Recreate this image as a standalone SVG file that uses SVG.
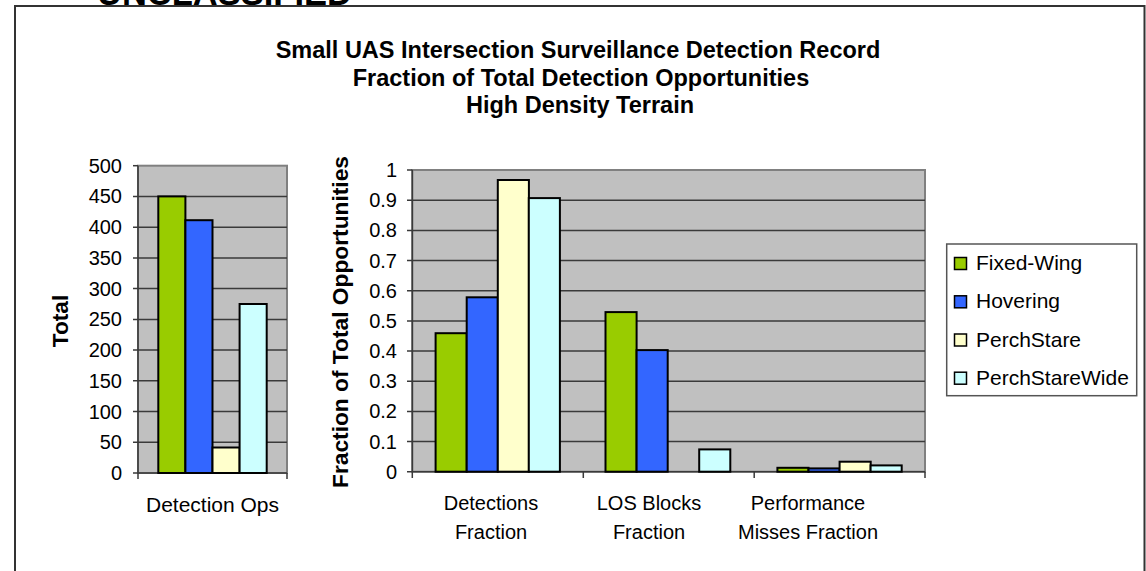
<svg xmlns="http://www.w3.org/2000/svg" width="1146" height="571" viewBox="0 0 1146 571">
<style>
  text { font-family: "Liberation Sans", Arial, sans-serif; fill: #000; }
  .title { font-size: 23.5px; font-weight: bold; text-anchor: middle; }
  .axt { font-size: 22.7px; font-weight: bold; text-anchor: middle; }
  .tick { font-size: 20px; text-anchor: end; }
  .cat { font-size: 20px; text-anchor: middle; }
  .leg { font-size: 21px; }
  .plot { fill: #C0C0C0; stroke: #808080; stroke-width: 2; }
  .grid { stroke: #3a3a3a; stroke-width: 1.5; }
  .axis { stroke: #3a3a3a; stroke-width: 1.5; fill: none; }
  .bar { stroke: #000; stroke-width: 2; }
  .fw { fill: #99CC00; }
  .hv { fill: #3366FF; }
  .ps { fill: #FFFFCC; }
  .pw { fill: #CCFFFF; }
</style>

<!-- classification banner (clipped at top, as in the reference) -->
<text x="97" y="5" style="font-size:34.5px;font-weight:bold;">UNCLASSIFIED</text>

<!-- outer frame -->
<path d="M15,571 V6 H1144.5 V571" fill="none" stroke="#333" stroke-width="2"/>

<!-- title -->
<g id="title">
  <text class="title" x="578" y="58">Small UAS Intersection Surveillance Detection Record</text>
  <text class="title" x="581" y="86">Fraction of Total Detection Opportunities</text>
  <text class="title" x="580" y="113">High Density Terrain</text>
</g>

<!-- left chart -->
<g id="chart-total">
  <rect class="plot" x="138" y="165.7" width="149" height="307.3"/>
  <g class="grid">
    <line x1="133" y1="442.3" x2="287" y2="442.3"/>
    <line x1="133" y1="411.5" x2="287" y2="411.5"/>
    <line x1="133" y1="380.8" x2="287" y2="380.8"/>
    <line x1="133" y1="350.1" x2="287" y2="350.1"/>
    <line x1="133" y1="319.4" x2="287" y2="319.4"/>
    <line x1="133" y1="288.6" x2="287" y2="288.6"/>
    <line x1="133" y1="257.9" x2="287" y2="257.9"/>
    <line x1="133" y1="227.2" x2="287" y2="227.2"/>
    <line x1="133" y1="196.4" x2="287" y2="196.4"/>
    <line x1="133" y1="165.7" x2="138" y2="165.7"/>
  </g>
  <path class="axis" d="M138,165.7 V473 M133,473 H287 M138,473 V479 M287,473 V479"/>
  <g id="bars-total">
    <rect class="bar fw" x="158.3" y="196.4" width="27.1" height="276.6"/>
    <rect class="bar hv" x="185.4" y="220.2" width="27.1" height="252.8"/>
    <rect class="bar ps" x="212.5" y="447.5" width="27.1" height="25.5"/>
    <rect class="bar pw" x="239.6" y="304" width="27.1" height="169"/>
  </g>
  <g id="ticks-total">
    <text class="tick" x="122" y="480">0</text>
    <text class="tick" x="122" y="449.3">50</text>
    <text class="tick" x="122" y="418.5">100</text>
    <text class="tick" x="122" y="387.8">150</text>
    <text class="tick" x="122" y="357.1">200</text>
    <text class="tick" x="122" y="326.4">250</text>
    <text class="tick" x="122" y="295.6">300</text>
    <text class="tick" x="122" y="264.9">350</text>
    <text class="tick" x="122" y="234.2">400</text>
    <text class="tick" x="122" y="203.4">450</text>
    <text class="tick" x="122" y="172.7">500</text>
  </g>
  <text class="cat" x="212.5" y="512" textLength="133" lengthAdjust="spacingAndGlyphs">Detection Ops</text>
  <text class="axt" transform="translate(68,321) rotate(-90)">Total</text>
</g>

<!-- right chart -->
<g id="chart-fraction">
  <rect class="plot" x="412.3" y="170" width="512.7" height="301.7"/>
  <g class="grid">
    <line x1="407" y1="441.5" x2="925" y2="441.5"/>
    <line x1="407" y1="411.4" x2="925" y2="411.4"/>
    <line x1="407" y1="381.2" x2="925" y2="381.2"/>
    <line x1="407" y1="351.0" x2="925" y2="351.0"/>
    <line x1="407" y1="320.9" x2="925" y2="320.9"/>
    <line x1="407" y1="290.7" x2="925" y2="290.7"/>
    <line x1="407" y1="260.5" x2="925" y2="260.5"/>
    <line x1="407" y1="230.4" x2="925" y2="230.4"/>
    <line x1="407" y1="200.2" x2="925" y2="200.2"/>
    <line x1="407" y1="170" x2="412.3" y2="170"/>
  </g>
  <path class="axis" d="M412.3,170 V471.7 M407,471.7 H925 M412.3,471.7 V478 M583.3,471.7 V478 M754.2,471.7 V478 M925,471.7 V478"/>
  <g id="bars-detections">
    <rect class="bar fw" x="435.6" y="333.2" width="31.1" height="138.5"/>
    <rect class="bar hv" x="466.7" y="297.3" width="31.1" height="174.4"/>
    <rect class="bar ps" x="497.8" y="180" width="31.1" height="291.7"/>
    <rect class="bar pw" x="528.8" y="198.1" width="31.1" height="273.6"/>
  </g>
  <g id="bars-los">
    <rect class="bar fw" x="605.5" y="312.1" width="31.1" height="159.6"/>
    <rect class="bar hv" x="636.6" y="350.1" width="31.1" height="121.6"/>
    <rect class="bar pw" x="699.2" y="449.4" width="31.1" height="22.3"/>
  </g>
  <g id="bars-misses">
    <rect class="bar fw" x="777.4" y="467.8" width="31.1" height="3.9"/>
    <rect class="bar hv" x="808.5" y="468.4" width="31.1" height="3.3"/>
    <rect class="bar ps" x="839.6" y="461.7" width="31.1" height="10"/>
    <rect class="bar pw" x="870.6" y="465.4" width="31.1" height="6.3"/>
  </g>
  <g id="ticks-fraction">
    <text class="tick" x="397" y="478.7">0</text>
    <text class="tick" x="397" y="448.5">0.1</text>
    <text class="tick" x="397" y="418.4">0.2</text>
    <text class="tick" x="397" y="388.2">0.3</text>
    <text class="tick" x="397" y="358.0">0.4</text>
    <text class="tick" x="397" y="327.9">0.5</text>
    <text class="tick" x="397" y="297.7">0.6</text>
    <text class="tick" x="397" y="267.5">0.7</text>
    <text class="tick" x="397" y="237.4">0.8</text>
    <text class="tick" x="397" y="207.2">0.9</text>
    <text class="tick" x="397" y="177">1</text>
  </g>
  <g id="cats-fraction">
    <text class="cat" x="491" y="510">Detections</text>
    <text class="cat" x="491" y="539">Fraction</text>
    <text class="cat" x="649" y="510">LOS Blocks</text>
    <text class="cat" x="649" y="539">Fraction</text>
    <text class="cat" x="808" y="510">Performance</text>
    <text class="cat" x="808" y="539">Misses Fraction</text>
  </g>
  <text class="axt" transform="translate(348,322) rotate(-90)" textLength="332" lengthAdjust="spacingAndGlyphs">Fraction of Total Opportunities</text>
</g>

<!-- legend -->
<g id="legend">
  <rect x="946.7" y="244" width="190" height="151.7" fill="#fff" stroke="#555" stroke-width="1.5"/>
  <rect class="fw" x="954.5" y="257.5" width="12" height="12" stroke="#000" stroke-width="1.5"/>
  <text class="leg" x="976" y="270">Fixed-Wing</text>
  <rect class="hv" x="954.5" y="295.8" width="12" height="12" stroke="#000" stroke-width="1.5"/>
  <text class="leg" x="976" y="308.3">Hovering</text>
  <rect class="ps" x="954.5" y="334" width="12" height="12" stroke="#000" stroke-width="1.5"/>
  <text class="leg" x="976" y="346.5">PerchStare</text>
  <rect class="pw" x="954.5" y="372.2" width="12" height="12" stroke="#000" stroke-width="1.5"/>
  <text class="leg" x="976" y="384.7">PerchStareWide</text>
</g>
</svg>
